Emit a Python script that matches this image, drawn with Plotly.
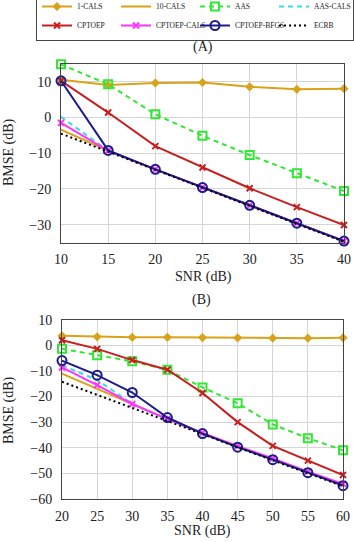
import plotly.graph_objects as go

W, H = 354, 542

names = ["1-CALS", "10-CALS", "AAS", "AAS-CALS", "CPTOEP", "CPTOEP-CALS", "CPTOEP-BFGS", "ECRB"]

snr_a = [10, 15, 20, 25, 30, 35, 40]
a_1cals = [10.6, 9.1, 9.7, 9.8, 8.6, 7.9, 8.1]
a_10cals = [-3.4, -9.3, -14.5, -19.6, -24.6, -29.6, -34.6]
a_aas = [14.9, 9.3, 0.9, -5.1, -10.5, -15.6, -20.6]
a_aascals = [0.2, -9.3, -14.5, -19.6, -24.6, -29.6, -34.6]
a_cptoep = [10.3, 1.4, -8.0, -14.0, -19.8, -25.1, -30.1]
a_cptoep_cals = [-1.5, -9.3, -14.5, -19.6, -24.6, -29.6, -34.6]
a_bfgs = [10.3, -9.2, -14.5, -19.6, -24.6, -29.6, -34.6]
a_ecrb = [-4.5, -9.6, -14.7, -19.8, -24.8, -29.8, -34.8]

snr_b = [20, 25, 30, 35, 40, 45, 50, 55, 60]
b_1cals = [3.8, 3.4, 3.2, 3.2, 3.1, 3.0, 2.9, 2.9, 3.0]
b_10cals = [-11.0, -17.0, -23.0, -28.8, -34.3, -39.6, -44.5, -49.7, -54.6]
b_aas = [-1.3, -3.8, -6.2, -9.5, -16.4, -22.6, -30.9, -36.3, -41.0]
b_aascals = [-7.8, -13.5, -22.8, -28.8, -34.3, -39.6, -44.5, -49.7, -54.6]
b_cptoep = [2.1, -1.3, -5.7, -9.5, -18.6, -30.0, -39.3, -45.1, -50.7]
b_cptoep_cals = [-8.6, -15.5, -22.9, -28.8, -34.2, -39.4, -44.2, -49.4, -54.2]
b_bfgs = [-5.9, -11.6, -18.4, -28.2, -34.5, -39.8, -44.7, -49.8, -54.9]
b_ecrb = [-14.2, -19.3, -24.5, -29.3, -34.7, -39.9, -44.9, -50.0, -55.1]

xticks_a = [10, 15, 20, 25, 30, 35, 40]
yticks_a = [-30, -20, -10, 0, 10]
xticks_b = [20, 25, 30, 35, 40, 45, 50, 55, 60]
yticks_b = [-60, -50, -40, -30, -20, -10, 0, 10]

GOLD = "#D9A21B"
GREEN = "#33E633"
CYAN = "#38D8EA"
RED = "#C81E1E"
MAG = "#FF33FF"
NAVY = "#1C1C8C"

styles = [
    dict(mode="lines+markers", line=dict(color=GOLD, width=2), marker=dict(symbol="diamond", size=7, color=GOLD)),
    dict(mode="lines", line=dict(color=GOLD, width=2)),
    dict(mode="lines+markers", line=dict(color=GREEN, width=2, dash="5px,4px"),
         marker=dict(symbol="square-open", size=8, color=GREEN, line=dict(width=2, color=GREEN))),
    dict(mode="lines", line=dict(color=CYAN, width=2, dash="5px,4px")),
    dict(mode="lines+markers", line=dict(color=RED, width=2), marker=dict(symbol="x-thin", size=6, line=dict(width=2, color=RED))),
    dict(mode="lines+markers", line=dict(color=MAG, width=2), marker=dict(symbol="x-thin", size=6, line=dict(width=2, color=MAG))),
    dict(mode="lines+markers", line=dict(color=NAVY, width=2),
         marker=dict(symbol="circle-open", size=9, color=NAVY, line=dict(width=2, color=NAVY))),
    dict(mode="lines", line=dict(color="black", width=2, dash="2px,3px")),
]

fig = go.Figure()
series_a = [a_1cals, a_10cals, a_aas, a_aascals, a_cptoep, a_cptoep_cals, a_bfgs, a_ecrb]
series_b = [b_1cals, b_10cals, b_aas, b_aascals, b_cptoep, b_cptoep_cals, b_bfgs, b_ecrb]
for name, ys, st in zip(names, series_a, styles):
    fig.add_trace(go.Scatter(x=snr_a, y=ys, name=name, xaxis="x", yaxis="y",
                             cliponaxis=False, showlegend=True, **st))
for name, ys, st in zip(names, series_b, styles):
    fig.add_trace(go.Scatter(x=snr_b, y=ys, name=name, xaxis="x2", yaxis="y2",
                             cliponaxis=False, showlegend=False, **st))

FONT = "Liberation Serif"
axis_common = dict(showline=True, mirror=True, linecolor="#444", linewidth=1,
                   showgrid=True, gridcolor="#d6d6d6", gridwidth=1, zeroline=False,
                   ticks="", ticklabeloverflow="allow",
                   tickfont=dict(family=FONT, size=14, color="#222"))

def px(x):
    return x / W

def py(y):
    return 1 - y / H

def label(text, x, y, angle=0):
    return dict(text=text, x=px(x), y=py(y), xref="paper", yref="paper", showarrow=False,
                xanchor="center", yanchor="middle", textangle=angle,
                font=dict(family=FONT, size=14, color="#222"))

fig.update_layout(
    width=W, height=H,
    margin=dict(l=0, r=0, t=0, b=0, autoexpand=False),
    plot_bgcolor="white", paper_bgcolor="white",
    xaxis=dict(domain=[px(61), px(344)], range=[10, 40], tickvals=xticks_a, anchor="y",
               ticklabelstandoff=4, **axis_common),
    yaxis=dict(domain=[py(242.5), py(64)], range=[-35, 15], tickvals=yticks_a, anchor="x",
               ticklabelstandoff=6, **axis_common),
    xaxis2=dict(domain=[px(62), px(343)], range=[20, 60], tickvals=xticks_b, anchor="y2",
                ticklabelstandoff=4, **axis_common),
    yaxis2=dict(domain=[py(498.7), py(320)], range=[-60, 10], tickvals=yticks_b, anchor="x2",
                ticklabelstandoff=6, **axis_common),
    legend=dict(orientation="h", x=px(36), y=1 + 9 / H, xanchor="left", yanchor="top",
                bordercolor="#444", borderwidth=1, bgcolor="white",
                font=dict(family=FONT, size=7.5, color="#222"),
                entrywidth=34, entrywidthmode="pixels", tracegroupgap=0),
    annotations=[
        label("(A)", 203, 47),
        label("(B)", 201, 300),
        label("SNR (dB)", 203, 277),
        label("SNR (dB)", 202, 531),
        label("BMSE (dB)", 9, 152, -90),
        label("BMSE (dB)", 9, 410, -90),
    ],
)

fig.write_html("out.html")
